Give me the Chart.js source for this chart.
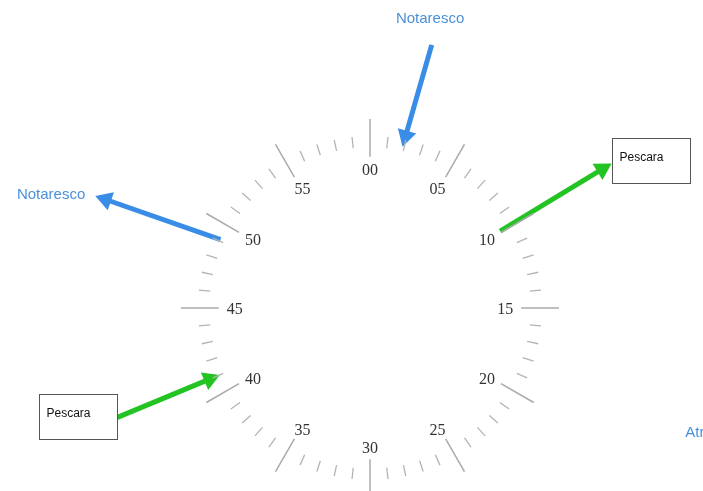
<!DOCTYPE html>
<html>
<head>
<meta charset="utf-8">
<script src="https://cdn.jsdelivr.net/npm/chart.js@4"></script>
<style>
  html, body { margin: 0; padding: 0; background: #fff; }
  #wrap { width: 703px; height: 491px; position: relative; }
</style>
</head>
<body>
<div id="wrap"><canvas id="dial"></canvas></div>
<script>
// dial: one tick per minute, a label every five
const minutes = Array.from({ length: 60 }, (_, i) => i);
const hourMarks = ['00', '05', '10', '15', '20', '25', '30', '35', '40', '45', '50', '55'];

// arrows, in dial coordinates (minute, radius as a fraction of the dial)
const arrowFromMinute = [2.2, 49.1, 9.9, 41.1];
const arrowFromRadius = [1.43, 0.87, 0.80, 1.47];
const arrowToMinute = [1.9, 48.7, 9.85, 41.0];
const arrowToRadius = [0.87, 1.57, 1.49, 0.87];

// place names
const calloutText = ['Notaresco', 'Notaresco', 'Pescara', 'Pescara', 'Atri'];
const calloutMinute = [1.96, 48.25, 10.37, 41.6, 18.49];
const calloutRadius = [1.56, 1.79, 1.68, 1.65, 1.85];
const calloutBoxed = [false, false, true, true, false];

const arrowColors = ['#3a8de6', '#3a8de6', '#22c322', '#22c322'];

// layout of the dial inside the canvas
const W = 703, H = 491, CX = 370, CY = 308, R = 189;
const HEAD = 11;

const polar = (m, r) => {
    const a = m / 60 * 2 * Math.PI;
    return { x: r * Math.sin(a), y: r * Math.cos(a) };
};

const datasets = [];

minutes.forEach((m) => {
    const major = m % 5 === 0;
    datasets.push({
        data: [polar(m, major ? 0.80 : 0.85), polar(m, major ? 1.0 : 0.91)],
        showLine: true,
        borderColor: major ? '#aaaaaa' : '#b4b4b4',
        borderWidth: major ? 1.5 : 1.3,
        pointRadius: 0,
    });
});

arrowFromMinute.forEach((_, i) => {
    const from = polar(arrowFromMinute[i], arrowFromRadius[i]);
    const tip = polar(arrowToMinute[i], arrowToRadius[i]);
    const dx = tip.x - from.x, dy = tip.y - from.y;
    const len = Math.hypot(dx, dy);
    const back = HEAD / R;
    const head = { x: tip.x - dx / len * back, y: tip.y - dy / len * back };
    datasets.push({
        data: [from, head],
        showLine: true,
        borderColor: arrowColors[i],
        backgroundColor: arrowColors[i],
        borderWidth: 5,
        borderCapStyle: 'butt',
        pointStyle: 'triangle',
        pointRadius: [0, HEAD],
        pointBorderWidth: 0,
        pointRotation: [0, Math.atan2(dx, dy) * 180 / Math.PI],
    });
});

const dialText = {
    id: 'dialText',
    afterDatasetsDraw(chart) {
        const { ctx, scales: { x, y } } = chart;
        const px = (p) => ({ x: x.getPixelForValue(p.x), y: y.getPixelForValue(p.y) });
        ctx.save();
        ctx.textAlign = 'center';
        ctx.textBaseline = 'middle';
        ctx.font = '16px "Liberation Serif", serif';
        ctx.fillStyle = '#333333';
        hourMarks.forEach((t, i) => {
            const p = polar(i * 5, 1);
            const q = px({ x: p.x * 0.715, y: p.y * 0.735 });
            ctx.fillText(t, q.x, q.y + 2);
        });

        calloutText.forEach((t, i) => {
            const p = px(polar(calloutMinute[i], calloutRadius[i]));
            if (calloutBoxed[i]) {
                const bw = 78, bh = 45;
                const left = Math.round(p.x - bw / 2) + 0.5, top = Math.round(p.y - bh / 2) + 0.5;
                ctx.fillStyle = '#ffffff';
                ctx.fillRect(left, top, bw, bh);
                ctx.strokeStyle = '#555555';
                ctx.lineWidth = 1;
                ctx.strokeRect(left, top, bw, bh);
                ctx.fillStyle = '#111111';
                ctx.font = '12px "Liberation Sans", Arial, sans-serif';
                ctx.textAlign = 'left';
                ctx.fillText(t, left + 7, top + 19);
            } else {
                ctx.fillStyle = '#4a90d9';
                ctx.font = '15px "Liberation Sans", Arial, sans-serif';
                ctx.textAlign = 'center';
                ctx.fillText(t, p.x, p.y);
            }
        });
        ctx.restore();
    },
};

new Chart(document.getElementById('dial'), {
    type: 'scatter',
    data: { datasets },
    options: {
        responsive: true,
        maintainAspectRatio: false,
        animation: false,
        events: [],
        layout: { padding: 0, autoPadding: false },
        scales: {
            x: { display: false, min: -CX / R, max: (W - CX) / R },
            y: { display: false, min: -(H - CY) / R, max: CY / R },
        },
        plugins: {
            legend: { display: false },
            tooltip: { enabled: false },
        },
    },
    plugins: [dialText],
});
</script>
</body>
</html>
